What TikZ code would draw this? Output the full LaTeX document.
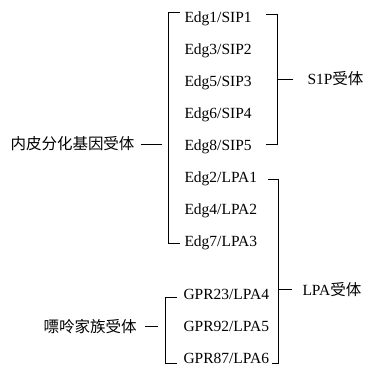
\documentclass[tikz,border=0pt]{standalone}
\usepackage{fontspec}
\setmainfont{Liberation Serif}
\newfontfamily\cjk{Noto Sans CJK SC}

\begin{document}
\begin{tikzpicture}[x=1pt,y=-1pt,line width=1pt,
  every node/.style={inner sep=0pt,font=\fontsize{15.5}{18}\selectfont},
  rec/.style={anchor=base west}]
  \useasboundingbox (0,0) rectangle (367,366);
  % receptors
  \node[rec] (e1) at (184,23) {Edg1/SIP1};
  \node[rec] (e3) at (184,55) {Edg3/SIP2};
  \node[rec] (e5) at (184,87) {Edg5/SIP3};
  \node[rec] (e6) at (184,119) {Edg6/SIP4};
  \node[rec] (e8) at (184,151) {Edg8/SIP5};
  \node[rec] (e2) at (184,183) {Edg2/LPA1};
  \node[rec] (e4) at (184,215) {Edg4/LPA2};
  \node[rec] (e7) at (184,247) {Edg7/LPA3};
  \node[rec] (g23) at (183,299) {GPR23/LPA4};
  \node[rec] (g92) at (183,331) {GPR92/LPA5};
  \node[rec] (g87) at (183,363) {GPR87/LPA6};
  % family labels
  \node[anchor=base east] (endo) at (135,150) {\cjk 内皮分化基因受体};
  \node[anchor=base east] (puri) at (137,332) {\cjk 嘌呤家族受体};
  \node[anchor=base west] (s1p) at (307,85) {S1P{\cjk 受体}};
  \node[anchor=base west] (lpa) at (302,295) {LPA{\cjk 受体}};
  % brackets
  \coordinate (edgtop) at (168,13);
  \coordinate (edgbot) at (168,244);
  \coordinate (s1ptop) at (277,15);
  \coordinate (s1pbot) at (277,145);
  \coordinate (lpatop) at (278,180);
  \coordinate (lpabot) at (278,363);
  \coordinate (gprtop) at (165,298);
  \coordinate (gprbot) at (165,363);
  \draw (edgtop) ++(12,0) -- (edgtop) -- (edgbot) -- ++(12,0);
  \draw (s1ptop) ++(-11,0) -- (s1ptop) -- (s1pbot) -- ++(-11,0);
  \draw (lpatop) ++(-10,0) -- (lpatop) -- (lpabot) -- ++(-6,0);
  \draw (gprtop) ++(12,0) -- (gprtop) -- (gprbot) -- ++(12,0);
  % ticks to the labels
  \draw ([xshift=6pt]endo.east) -- ++(21,0);
  \draw ([xshift=8pt]puri.east) -- ++(13,0);
  \draw ([xshift=-14pt]s1p.west) -- ++(-16,0);
  \draw ([xshift=-10pt]lpa.west) -- ++(-14,0);
\end{tikzpicture}
\end{document}
